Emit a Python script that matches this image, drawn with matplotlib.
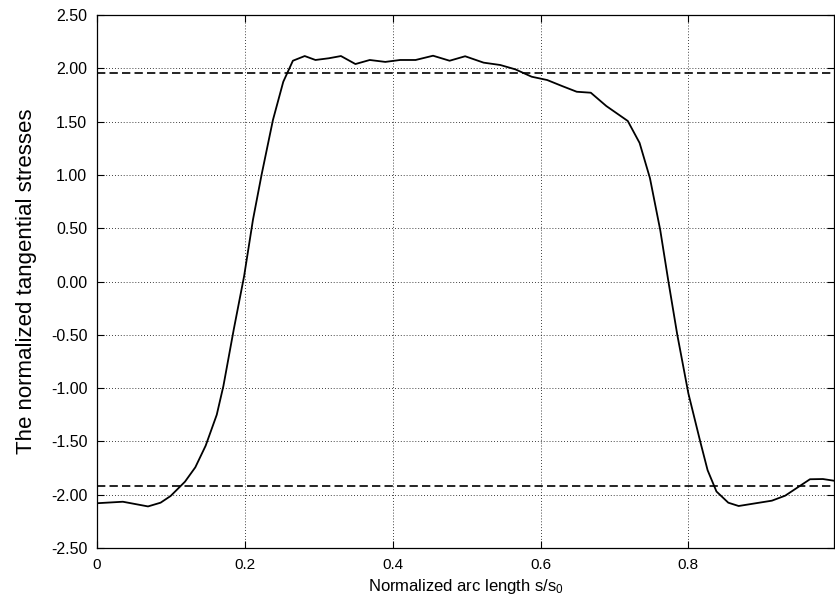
import matplotlib
matplotlib.use('Agg')
import matplotlib.pyplot as plt
from matplotlib.ticker import FormatStrFormatter

plt.rcParams['font.family'] = ['Liberation Sans', 'DejaVu Sans']
plt.rcParams['mathtext.default'] = 'regular'

# arc length positions and normalized tangential stress
arc = [0.0, 0.035, 0.069, 0.086, 0.0996, 0.119, 0.133, 0.147, 0.162, 0.171,
       0.185, 0.199, 0.211, 0.2226, 0.238, 0.252, 0.265, 0.281, 0.2955, 0.3135,
       0.330, 0.3496, 0.369, 0.390, 0.410, 0.431, 0.4546, 0.477, 0.498, 0.523,
       0.5455, 0.566, 0.588, 0.609, 0.629, 0.649, 0.668, 0.689, 0.718, 0.734,
       0.748, 0.762, 0.773, 0.785, 0.800, 0.816, 0.826, 0.838, 0.854, 0.868,
       0.913, 0.931, 0.9645, 0.982, 0.997]
stress = [-2.08, -2.066, -2.11, -2.075, -2.012, -1.878, -1.743, -1.54, -1.25, -0.98,
          -0.45, 0.05, 0.58, 1.0, 1.515, 1.874, 2.071, 2.115, 2.078, 2.094,
          2.115, 2.04, 2.078, 2.06, 2.078, 2.078, 2.118, 2.071, 2.113, 2.053,
          2.031, 1.99, 1.921, 1.89, 1.834, 1.78, 1.771, 1.646, 1.506, 1.30,
          0.97, 0.48, 0.0, -0.50, -1.05, -1.50, -1.77, -1.97, -2.075, -2.106,
          -2.056, -2.009, -1.855, -1.853, -1.869]

# reference levels (dashed)
upper_level = 1.956
lower_level = -1.916

xticks = [0, 0.2, 0.4, 0.6, 0.8]
xticklabels = ['0', '0.2', '0.4', '0.6', '0.8']
yticks = [-2.5, -2.0, -1.5, -1.0, -0.5, 0.0, 0.5, 1.0, 1.5, 2.0, 2.5]

fig = plt.figure(figsize=(8.35, 6.02), dpi=100)
ax = fig.add_axes([97 / 835, 1 - 548 / 602, 737 / 835, 533 / 602])

ax.plot(arc, stress, color='black', linewidth=1.3)
ax.axhline(upper_level, color='black', linewidth=1.2, linestyle=(0, (5, 2.5)))
ax.axhline(lower_level, color='black', linewidth=1.2, linestyle=(0, (5, 2.5)))

ax.set_xlim(0, 0.997)
ax.set_ylim(-2.5, 2.5)
ax.set_xticks(xticks)
ax.set_xticklabels(xticklabels)
ax.set_yticks(yticks)
ax.yaxis.set_major_formatter(FormatStrFormatter('%.2f'))

ax.grid(True, color='black', linestyle=(0, (1, 2.5)), linewidth=0.6)
ax.tick_params(direction='in', top=True, right=True, length=5, width=0.8,
               labelsize=11, pad=7)
ax.tick_params(axis='y', labelsize=11.5, pad=7)
for s in ax.spines.values():
    s.set_linewidth(0.9)

ax.set_xlabel('Normalized arc length s/s$_0$', fontsize=12, labelpad=4)
ax.set_ylabel('The normalized tangential stresses', fontsize=16, labelpad=10)

fig.savefig('out.png', dpi=100)
